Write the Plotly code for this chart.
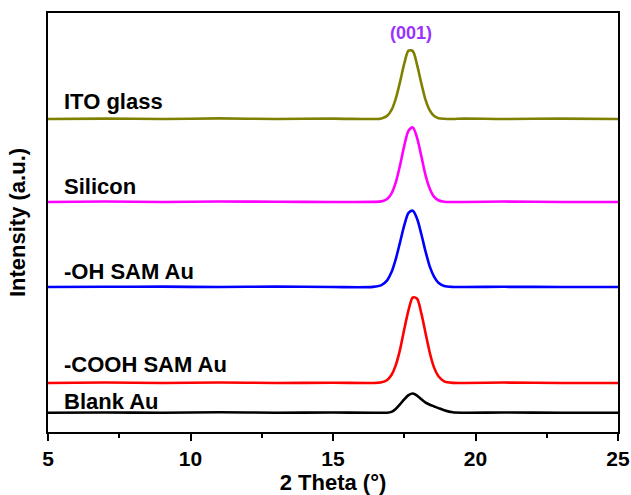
import plotly.graph_objects as go

# common 2-theta sampling grid (degrees)
two_theta = [5, 7, 9, 11, 13, 15, 16.4, 16.7, 16.9, 17.05, 17.2, 17.35, 17.5, 17.65, 17.8,
             17.95, 18.1, 18.25, 18.4, 18.55, 18.7, 18.9, 19.2, 19.6, 21, 23, 25]

# intensities above each baseline (a.u.)
ito_glass = [0, 0.1, 0, 0.15, 0, 0.1, 0, 0.14, 0.75, 2.1, 4.8, 8.8, 13.2, 16.3, 16.2,
             12.9, 8.5, 4.5, 2.0, 0.7, 0.2, 0.05, 0, 0.1, 0, 0.1, 0]
silicon = [0, 0.1, 0, 0.1, 0.05, 0, 0.02, 0.14, 0.73, 2.0, 4.6, 8.7, 13.4, 17.0, 17.8,
           15.3, 10.9, 6.3, 3.1, 1.2, 0.4, 0.06, 0, 0, 0.1, 0, 0]
oh_sam = [0, 0.05, 0.1, 0, 0.1, 0, 0.04, 0.46, 1.6, 3.5, 6.6, 10.6, 14.7, 17.7, 18.2,
          16.3, 12.6, 8.4, 4.8, 2.4, 1.0, 0.26, 0.02, 0, 0.05, 0, 0]
cooh_sam = [0, 0.1, 0, 0.1, 0, 0.05, 0, 0.15, 0.7, 1.9, 4.2, 7.9, 12.8, 17.4, 20.4,
            20.1, 16.6, 11.8, 7.1, 3.6, 1.6, 0.4, 0.03, 0, 0.1, 0, 0]
blank_au = [0, 0.05, 0, 0.1, 0, 0.05, 0, 0, 0, 0.2, 0.9, 2.0, 3.2, 4.2, 4.6,
            4.1, 3.2, 2.4, 1.9, 1.5, 1.1, 0.6, 0.1, 0, 0.05, 0, 0]

# vertical offsets of each pattern
offsets = {"ITO glass": 74.7, "Silicon": 54.9, "-OH SAM Au": 34.6,
           "-COOH SAM Au": 11.7, "Blank Au": 4.6}
series = {"ITO glass": ito_glass, "Silicon": silicon, "-OH SAM Au": oh_sam,
          "-COOH SAM Au": cooh_sam, "Blank Au": blank_au}
colors = {"ITO glass": "#808000", "Silicon": "#FF00FF", "-OH SAM Au": "#0000FF",
          "-COOH SAM Au": "#FF0000", "Blank Au": "#000000"}
label_y = {"ITO glass": 78.8, "Silicon": 58.7, "-OH SAM Au": 38.4,
           "-COOH SAM Au": 16.0, "Blank Au": 7.2}

x_ticks = [5, 10, 15, 20, 25]
peak_label = "(001)"
peak_pos = (17.74, 95.2)

FONT = "Arial, Liberation Sans, sans-serif"

fig = go.Figure()
for name, vals in series.items():
    off = offsets[name]
    fig.add_trace(go.Scatter(
        x=two_theta, y=[v + off for v in vals], mode="lines", name=name,
        line=dict(color=colors[name], width=2.6, shape="spline", smoothing=0.8),
        showlegend=False, hoverinfo="skip"))
    fig.add_annotation(x=0.024, xref="paper", y=label_y[name], yref="y",
                       text=name, showarrow=False, xanchor="left", yanchor="middle",
                       font=dict(family=FONT, size=22, color="black", weight="bold"))

fig.add_annotation(x=peak_pos[0], y=peak_pos[1], text=peak_label, showarrow=False,
                   xanchor="center", yanchor="middle",
                   font=dict(family=FONT, size=18, color="#9933FF", weight="bold"))

fig.update_layout(
    width=631, height=495,
    margin=dict(l=48, r=13, t=13, b=63),
    paper_bgcolor="white", plot_bgcolor="white",
    font=dict(family=FONT, color="black"),
    xaxis=dict(range=[5, 25], tickvals=x_ticks, ticks="outside", ticklen=7, tickwidth=2,
               tickcolor="black", automargin=False,
               showline=True, linewidth=2, linecolor="black", mirror=True,
               showgrid=False, zeroline=False,
               tickfont=dict(family=FONT, size=21, color="black", weight="bold"),
               minor=dict(ticks="outside", dtick=2.5, tick0=5, ticklen=4, tickwidth=2,
                          tickcolor="black", showgrid=False),
               title=dict(text="2 Theta (°)", standoff=2,
                          font=dict(family=FONT, size=22, color="black", weight="bold"))),
    yaxis=dict(range=[0, 100], showticklabels=False, ticks="", automargin=False,
               showline=True, linewidth=2, linecolor="black", mirror=True,
               showgrid=False, zeroline=False,
               title=dict(text="Intensity (a.u.)", standoff=14,
                          font=dict(family=FONT, size=22, color="black", weight="bold"))),
)

fig.write_html("out.html")
